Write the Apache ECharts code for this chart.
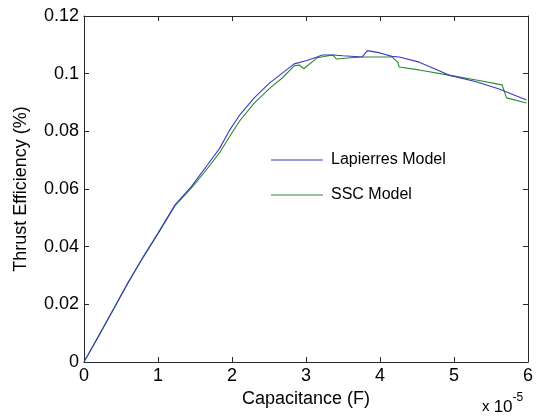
<!DOCTYPE html>
<html>
<head>
<meta charset="utf-8">
<script src="https://cdn.jsdelivr.net/npm/echarts@6/dist/echarts.min.js"></script>
<style>html,body{margin:0;padding:0;background:#fff}#c{width:536px;height:416px}</style>
</head>
<body>
<div id="c"></div>
<script>
// Capacitance in units of 1e-5 F
var lapX = [0,0.2,0.4,0.6,0.8,1.0,1.23,1.45,1.65,1.83,1.97,2.1,2.3,2.51,2.68,2.84,3.0,3.15,3.22,3.36,3.5,3.76,3.83,4.0,4.16,4.26,4.53,4.8,4.93,5.3,5.61,5.98];
var lapY = [0,0.0092,0.0185,0.0278,0.0365,0.0447,0.0545,0.0608,0.0677,0.0740,0.0805,0.0855,0.0916,0.0968,0.1002,0.1034,0.1045,0.1058,0.1065,0.1065,0.1062,0.1058,0.1080,0.1072,0.1060,0.1058,0.1040,0.1010,0.0995,0.0972,0.0947,0.0909];
var sscX = [0,0.2,0.4,0.6,0.8,1.0,1.23,1.45,1.65,1.83,2.0,2.1,2.3,2.53,2.68,2.84,2.91,2.97,3.15,3.36,3.41,3.6,3.76,4.16,4.24,4.26,4.53,4.93,5.3,5.65,5.71,5.98];
var sscY = [0,0.0090,0.0183,0.0276,0.0363,0.0445,0.0542,0.0603,0.0665,0.0725,0.0795,0.0835,0.0898,0.0954,0.0985,0.1027,0.1030,0.1017,0.1055,0.1065,0.1051,0.1055,0.1058,0.1058,0.1040,0.1023,0.1013,0.0995,0.0978,0.0961,0.0916,0.0898];
var xTicks = [0,1,2,3,4,5,6];
var yTicks = [0,0.02,0.04,0.06,0.08,0.1,0.12];
var seriesNames = ['Lapierres Model','SSC Model'];

function pairs(xs, ys){ return xs.map(function(x,i){return [x, ys[i]];}); }

var chart = echarts.init(document.getElementById('c'), null, {renderer:'canvas'});
var font = 'Liberation Sans, Arial, sans-serif';
var axisCol = '#262626';
function frameAxis(extra){
  var base = {
    axisLine:{show:true, onZero:false, lineStyle:{color:axisCol, width:1}},
    axisTick:{show:true, inside:true, length:5, lineStyle:{color:axisCol}},
    splitLine:{show:false}
  };
  for (var k in extra) base[k] = extra[k];
  return base;
}
chart.setOption({
  animation:false,
  backgroundColor:'#fff',
  grid:{left:84, right:7, top:16, bottom:54, show:false},
  legend:{
    orient:'vertical', left:271, top:152, padding:0, itemWidth:52, itemHeight:1, itemGap:19,
    icon:'rect',
    textStyle:{fontFamily:font, fontSize:16, color:'#000', lineHeight:16, padding:[0,0,0,3]},
    data:seriesNames
  },
  xAxis:[frameAxis({
    type:'value', min:xTicks[0], max:xTicks[xTicks.length-1], interval:1,
    name:'Capacitance (F)', nameLocation:'middle', nameGap:28,
    nameTextStyle:{fontFamily:font, fontSize:18, color:'#000'},
    axisLabel:{fontFamily:font, fontSize:18, color:'#000', margin:5}
  }), frameAxis({
    type:'value', position:'top', min:xTicks[0], max:xTicks[xTicks.length-1], interval:1,
    axisLabel:{show:false}
  })],
  yAxis:[frameAxis({
    type:'value', min:yTicks[0], max:yTicks[yTicks.length-1], interval:0.02,
    name:'Thrust Efficiency (%)', nameLocation:'middle', nameGap:54,
    nameTextStyle:{fontFamily:font, fontSize:18, color:'#000'},
    axisLabel:{fontFamily:font, fontSize:18, color:'#000', margin:5,
      formatter:function(v){ return String(+v.toFixed(2)); }}
  }), frameAxis({
    type:'value', position:'right', min:yTicks[0], max:yTicks[yTicks.length-1], interval:0.02,
    axisLabel:{show:false}
  })],
  series:[{
    name:seriesNames[0], type:'line', symbol:'none', data:pairs(lapX, lapY),
    lineStyle:{color:'#3a3ac4', width:1.1}, itemStyle:{color:'#3a3ac4'}, z:3
  },{
    name:seriesNames[1], type:'line', symbol:'none', data:pairs(sscX, sscY),
    lineStyle:{color:'#2a8a2a', width:1.1}, itemStyle:{color:'#2a8a2a'}, z:2
  }],
  graphic:[{
    type:'text', left:482, top:392,
    style:{
      text:'{a|x }{b|10}{c|-5}',
      rich:{
        a:{fontFamily:font, fontSize:15, fill:'#000', padding:[10,0,0,0]},
        b:{fontFamily:font, fontSize:17, fill:'#000', padding:[10,0,0,0]},
        c:{fontFamily:font, fontSize:12, fill:'#000', padding:[0,0,8,0]}
      }
    }
  }]
});
</script>
</body>
</html>
